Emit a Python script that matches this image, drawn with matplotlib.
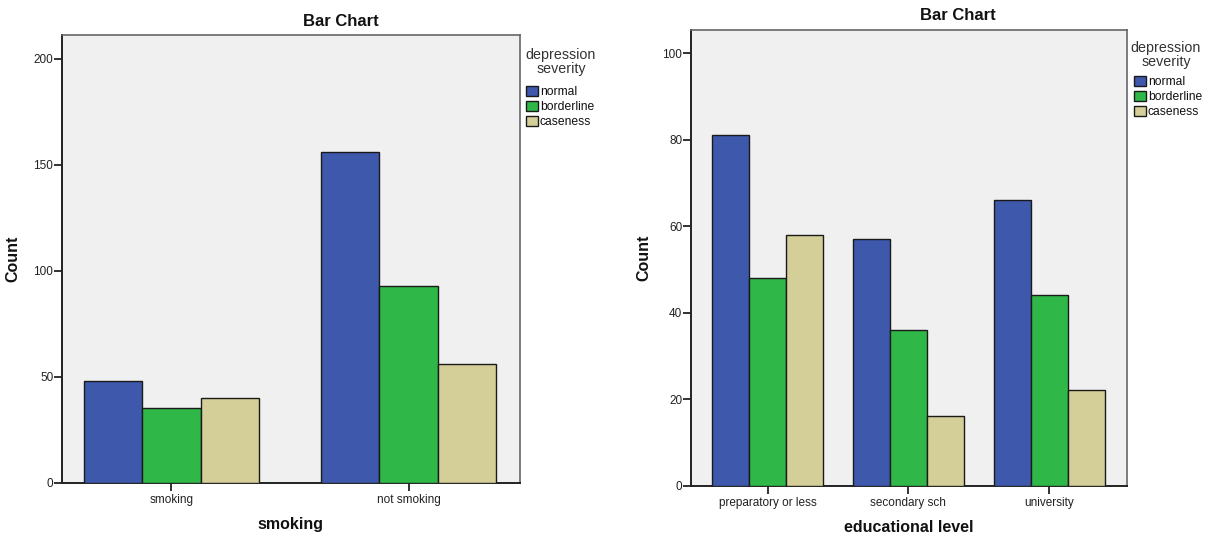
import matplotlib
matplotlib.use("Agg")
import matplotlib.pyplot as plt
import numpy as np

plt.rcParams['font.family'] = ['Liberation Sans', 'DejaVu Sans']

# ---- data ----
severity = ["normal", "borderline", "caseness"]
colors = ["#3E58AC", "#2FB848", "#D4CF98"]

smoke_cats = ["smoking", "not smoking"]
smoke_normal = [48, 156]
smoke_borderline = [35, 93]
smoke_caseness = [40, 56]

edu_cats = ["preparatory or less", "secondary sch", "university"]
edu_normal = [81, 57, 66]
edu_borderline = [48, 36, 44]
edu_caseness = [58, 16, 22]

W, H = 1209, 545
fig = plt.figure(figsize=(W / 100, H / 100), dpi=100)
fig.patch.set_facecolor("white")


def px(x0, y0, x1, y1):
    return [x0 / W, 1 - y1 / H, (x1 - x0) / W, (y1 - y0) / H]


def draw(ax, cats, series, width, xlim, ylim, yticks, xlabel,
         title_xy, leg_xy, legtitle_xy):
    x = np.arange(len(cats))
    bars = []
    for i, (vals, c) in enumerate(zip(series, colors)):
        b = ax.bar(x + (i - 1) * width, vals, width, color=c,
                   edgecolor="#1a1a1a", linewidth=1.0, zorder=3,
                   label=severity[i])
        bars.append(b)
    ax.set_facecolor("#F0F0F0")
    ax.set_xlim(*xlim)
    ax.set_ylim(*ylim)
    ax.set_yticks(yticks)
    ax.set_xticks(x)
    ax.set_xticklabels(cats)
    ax.tick_params(axis="y", length=5.5, width=1.3, pad=0.5,
                   labelsize=8.5, colors="#222222")
    ax.tick_params(axis="x", length=5.5, width=1.3, pad=2.5,
                   labelsize=8.5, colors="#222222")
    for s in ["left", "bottom"]:
        ax.spines[s].set_color("#222222")
        ax.spines[s].set_linewidth(1.4)
    for s in ["top", "right"]:
        ax.spines[s].set_color("#666666")
        ax.spines[s].set_linewidth(1.2)
    ax.set_xlabel(xlabel, fontsize=11.5, fontweight="bold", color="#111111")
    ax.xaxis.label.set_va("center")
    ax.set_ylabel("Count", fontsize=11.5, fontweight="bold", color="#111111")
    ax.yaxis.label.set_va("center")
    ax.yaxis.set_label_coords(-0.107, 0.5)

    fig.text(title_xy[0] / W, 1 - title_xy[1] / H, "Bar Chart",
             fontsize=12, fontweight="bold", ha="center", va="center",
             color="#111111")
    fig.text(legtitle_xy[0] / W, 1 - legtitle_xy[1] / H,
             "depression\nseverity", fontsize=10.3, ha="center", va="top",
             linespacing=1.0, color="#333333")
    leg = ax.legend(handles=bars, labels=severity, loc="upper left",
                    bbox_to_anchor=(leg_xy[0] / W, 1 - leg_xy[1] / H),
                    bbox_transform=fig.transFigure, frameon=False,
                    fontsize=8.7, handlelength=1.0, handleheight=0.95,
                    handletextpad=0.15, labelspacing=0.22, borderpad=0,
                    borderaxespad=0)
    for t in leg.get_texts():
        t.set_color("#111111")
    return ax


axL = fig.add_axes(px(61.7, 35, 520, 482.5))
draw(axL, smoke_cats, [smoke_normal, smoke_borderline, smoke_caseness],
     0.246, (-0.463, 1.47), (0, 211.3), [0, 50, 100, 150, 200], "smoking",
     (341, 21), (526, 86), (561, 48))
axL.xaxis.set_label_coords(0.5, (482.5 - 524) / 447.5)

axR = fig.add_axes(px(690.7, 30, 1126.7, 485.5))
draw(axR, edu_cats, [edu_normal, edu_borderline, edu_caseness],
     0.263, (-0.547, 2.551), (0, 105.4), [0, 20, 40, 60, 80, 100],
     "educational level", (958, 16), (1134, 76), (1166, 41))
axR.xaxis.set_label_coords(0.5, (485.5 - 528) / 455.5)

fig.savefig("out.png", dpi=100, facecolor="white")
